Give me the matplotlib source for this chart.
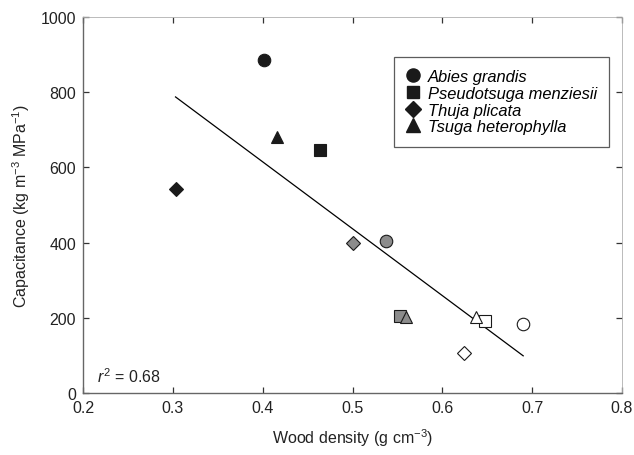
import matplotlib
matplotlib.use("Agg")
import matplotlib.pyplot as plt
import numpy as np

plt.rcParams["font.family"] = ["Liberation Sans", "DejaVu Sans"]
plt.rcParams["mathtext.fontset"] = "custom"
plt.rcParams["mathtext.rm"] = "Liberation Sans"
plt.rcParams["mathtext.it"] = "Liberation Sans:italic"

# each species: three points (black, grey, white fill)
species = ["Abies grandis", "Pseudotsuga menziesii", "Thuja plicata", "Tsuga heterophylla"]
markers = ["o", "s", "D", "^"]
fills = ["#1a1a1a", "#8c8c8c", "white"]

abies_x = [0.401, 0.537, 0.690]
abies_y = [886, 405, 183]
pseudo_x = [0.464, 0.553, 0.647]
pseudo_y = [647, 204, 191]
thuja_x = [0.303, 0.501, 0.624]
thuja_y = [543, 398, 106]
tsuga_x = [0.416, 0.560, 0.638]
tsuga_y = [682, 203, 201]

xs = [abies_x, pseudo_x, thuja_x, tsuga_x]
ys = [abies_y, pseudo_y, thuja_y, tsuga_y]
sizes = [9, 8, 7.5, 9]

fig = plt.figure(figsize=(6.34, 4.56), dpi=100)
ax = fig.add_axes([83 / 634, 1 - 394 / 456, 539 / 634, 376 / 456])

# regression line over all points
all_x = np.concatenate(xs)
all_y = np.concatenate(ys)
k, c = np.polyfit(all_x, all_y, 1)
lx = np.array([all_x.min(), all_x.max()])
ax.plot(lx, k * lx + c, color="black", lw=0.9, zorder=1)

for i in range(len(species)):
    for j in range(3):
        ax.plot(xs[i][j], ys[i][j], markers[i], ms=sizes[i], mfc=fills[j],
                mec="#1a1a1a", mew=0.8, zorder=3)
    ax.plot([], [], markers[i], ms=sizes[i] * 1.05, color="#1a1a1a", label=species[i])

leg = ax.legend(loc="upper right", bbox_to_anchor=(0.976, 0.894), borderaxespad=0,
                frameon=True, fancybox=False, edgecolor="#333333", handlelength=0.8,
                handletextpad=0.45, labelspacing=0.1, borderpad=0.75,
                prop={"style": "italic", "size": 11.9})
leg.get_frame().set_linewidth(0.9)

ax.text(0.216, 30, r"$r^2$ = 0.68", fontsize=11.5, color="#222222")

ax.set_xlim(0.2, 0.8)
ax.set_ylim(0, 1000)
ax.set_xticks(np.arange(0.2, 0.81, 0.1))
ax.set_xticklabels(["0.2", "0.3", "0.4", "0.5", "0.6", "0.7", "0.8"])
ax.set_yticks([0, 200, 400, 600, 800, 1000])

for s in ax.spines.values():
    s.set_color("#666666")
    s.set_linewidth(1)
for s in ["top", "right"]:
    ax.spines[s].set_color("#b0b0b0")
    ax.spines[s].set_linewidth(0.6)
ax.tick_params(direction="in", length=4, width=0.9, color="#333333",
               labelsize=11.5, labelcolor="#222222", top=True, right=True, pad=5)

ax.set_xlabel("Wood density (g cm$^{-3}$)", fontsize=11.5, color="#222222", labelpad=8)
ax.set_ylabel("Capacitance (kg m$^{-3}$ MPa$^{-1}$)", fontsize=11.5, color="#222222", labelpad=6)

fig.savefig("out.png", dpi=100)
